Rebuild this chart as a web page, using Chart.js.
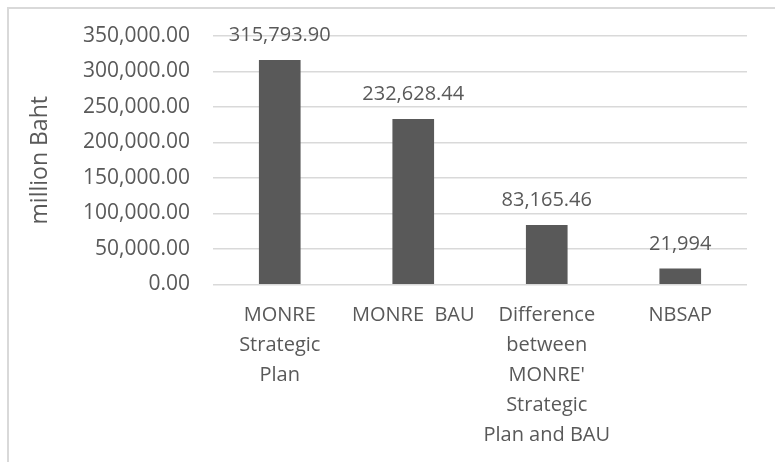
<!DOCTYPE html>
<html>
<head>
<meta charset="utf-8">
<script src="https://cdn.jsdelivr.net/npm/chart.js@4/dist/chart.umd.min.js"></script>
<style>
    body{ margin:0; background:#fff; overflow:hidden; }
    #frame{ position:absolute; left:7px; top:7px; width:2000px; height:2000px; border-top:2px solid #d9d9d9; border-left:2px solid #d9d9d9; }
    #wrap{ position:absolute; left:0; top:0; width:775px; height:462px; }
</style>
</head>
<body>
<div id="frame"></div>
<div id="wrap"><canvas id="budgetChart" width="775" height="462"></canvas></div>
<script>
// chart data
const categories = [
    ["MONRE", "Strategic", "Plan"],
    "MONRE  BAU",
    ["Difference", "between", "MONRE'", "Strategic", "Plan and BAU"],
    "NBSAP"
];
const budgetValues = [315793.90, 232628.44, 83165.46, 21994];
const valueLabels = ["315,793.90", "232,628.44", "83,165.46", "21,994"];
const yMax = 350000;
const yStep = 50000;

const textColor = "#595959";
const fontFamily = "'Open Sans', sans-serif";

const valueLabelPlugin = {
    id: "valueLabels",
    afterDatasetsDraw(chart){
        let ctx = chart.ctx;
        let meta = chart.getDatasetMeta(0);
        ctx.save();
        ctx.font = `20px ${fontFamily}`;
        ctx.fillStyle = textColor;
        ctx.textAlign = "center";
        ctx.textBaseline = "middle";
        for(let i = 0; i < meta.data.length; i++){
            let bar = meta.data[i];
            ctx.fillText(valueLabels[i], bar.x, bar.y - 25);
        }
        ctx.restore();
    }
};

new Chart(document.getElementById("budgetChart"), {
    type: "bar",
    data: {
        labels: categories,
        datasets: [{
            data: budgetValues,
            backgroundColor: "#595959",
            barThickness: 41
        }]
    },
    plugins: [valueLabelPlugin],
    options: {
        responsive: false,
        animation: false,
        layout: { padding: { left: 25, right: 28, top: 36, bottom: 0 } },
        plugins: { legend: { display: false }, tooltip: { enabled: false } },
        scales: {
            x: {
                grid: { display: false, drawTicks: false },
                border: { display: false },
                ticks: {
                    color: textColor,
                    font: { family: fontFamily, size: 20, lineHeight: 1.5 },
                    padding: 16,
                    maxRotation: 0,
                    autoSkip: false
                },
                afterFit: (scale)=>{ scale.height = 177.5; }
            },
            y: {
                min: 0,
                max: yMax,
                grid: { color: "#d9d9d9", lineWidth: 1.5, drawTicks: false },
                border: { display: false },
                ticks: {
                    stepSize: yStep,
                    color: textColor,
                    font: { family: fontFamily, size: 21 },
                    padding: 23,
                    callback: (v)=> v.toLocaleString("en-US", { minimumFractionDigits: 2, maximumFractionDigits: 2 })
                },
                title: {
                    display: true,
                    text: "million Baht",
                    color: textColor,
                    font: { family: fontFamily, size: 23 },
                    padding: { top: 2, bottom: 4 }
                },
                afterFit: (scale)=>{ scale.width = 188; }
            }
        }
    }
});
</script>
</body>
</html>
